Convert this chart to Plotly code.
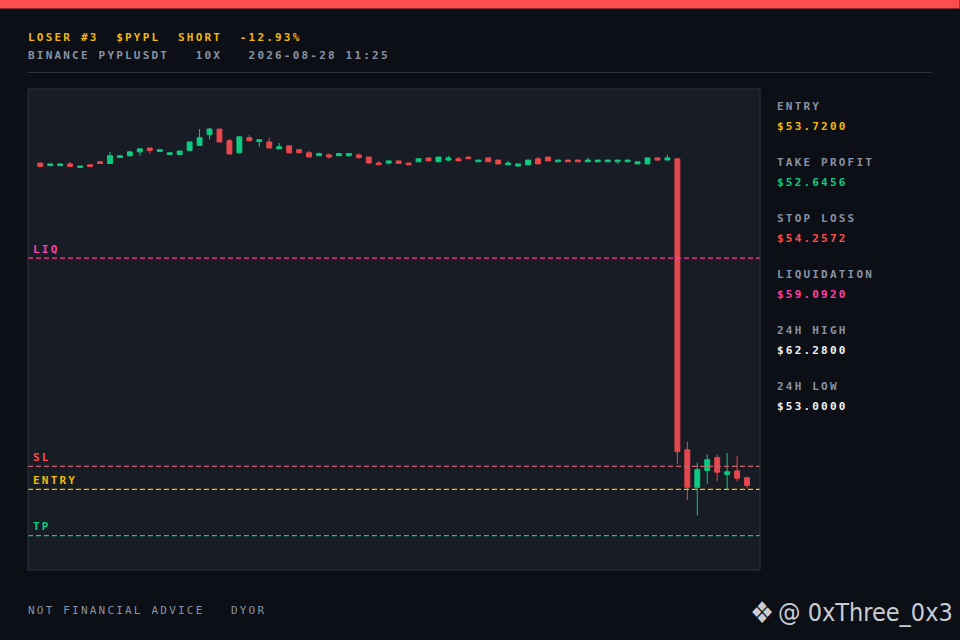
import plotly.graph_objects as go

# ---- data -------------------------------------------------------------
opens = [61.30, 61.24, 61.24, 61.28, 61.20, 61.26, 61.33, 61.29, 61.43, 61.47,
         61.56, 61.65, 61.57, 61.50, 61.50, 61.59, 61.71, 61.96, 62.09, 61.82,
         61.54, 61.89, 61.80, 61.79, 61.63, 61.70, 61.61, 61.54, 61.47, 61.49,
         61.47, 61.47, 61.49, 61.44, 61.30, 61.30, 61.35, 61.30, 61.33, 61.42,
         61.33, 61.37, 61.40, 61.44, 61.33, 61.42, 61.37, 61.26, 61.23, 61.26,
         61.40, 61.44, 61.33, 61.37, 61.37, 61.33, 61.33, 61.33, 61.33, 61.33,
         61.28, 61.28, 61.42, 61.37, 61.40, 54.64, 53.77, 54.16, 54.46, 54.07,
         54.15, 53.99]
highs = [61.30, 61.28, 61.28, 61.33, 61.23, 61.26, 61.35, 61.56, 61.47, 61.58,
         61.63, 61.65, 61.61, 61.54, 61.58, 61.79, 62.09, 62.12, 62.09, 61.86,
         61.93, 61.95, 61.84, 61.89, 61.77, 61.70, 61.61, 61.58, 61.54, 61.52,
         61.54, 61.52, 61.52, 61.44, 61.35, 61.35, 61.35, 61.30, 61.40, 61.42,
         61.44, 61.47, 61.44, 61.44, 61.37, 61.42, 61.37, 61.35, 61.28, 61.37,
         61.44, 61.44, 61.37, 61.37, 61.37, 61.42, 61.37, 61.37, 61.37, 61.37,
         61.33, 61.42, 61.42, 61.49, 61.40, 54.83, 54.34, 54.53, 54.53, 54.57,
         54.50, 54.02]
lows = [61.22, 61.24, 61.24, 61.22, 61.20, 61.22, 61.29, 61.29, 61.43, 61.45,
        61.47, 61.52, 61.57, 61.50, 61.50, 61.59, 61.71, 61.85, 61.79, 61.51,
        61.52, 61.80, 61.68, 61.65, 61.63, 61.52, 61.54, 61.44, 61.47, 61.40,
        61.47, 61.45, 61.40, 61.29, 61.26, 61.27, 61.29, 61.26, 61.33, 61.35,
        61.33, 61.35, 61.35, 61.40, 61.33, 61.33, 61.28, 61.26, 61.23, 61.26,
        61.28, 61.35, 61.33, 61.33, 61.33, 61.33, 61.33, 61.33, 61.28, 61.33,
        61.28, 61.28, 61.35, 61.37, 54.32, 53.47, 53.12, 53.85, 53.92, 53.71,
        53.91, 53.74]
closes = [61.22, 61.28, 61.28, 61.22, 61.23, 61.22, 61.29, 61.47, 61.47, 61.56,
          61.63, 61.59, 61.61, 61.54, 61.58, 61.79, 61.89, 62.09, 61.79, 61.51,
          61.91, 61.82, 61.84, 61.65, 61.68, 61.54, 61.54, 61.44, 61.52, 61.44,
          61.52, 61.52, 61.43, 61.30, 61.26, 61.35, 61.29, 61.26, 61.40, 61.35,
          61.44, 61.42, 61.35, 61.40, 61.37, 61.33, 61.28, 61.30, 61.28, 61.37,
          61.28, 61.35, 61.37, 61.33, 61.33, 61.37, 61.37, 61.37, 61.37, 61.37,
          61.33, 61.42, 61.37, 61.42, 54.60, 53.77, 54.18, 54.41, 54.12, 54.13,
          53.98, 53.81]
candle_idx = list(range(len(closes)))

level_names = ["LIQ", "SL", "ENTRY", "TP"]
level_prices = [59.0920, 54.2572, 53.7200, 52.6456]

panel_labels = ["ENTRY", "TAKE PROFIT", "STOP LOSS", "LIQUIDATION", "24H HIGH", "24H LOW"]
panel_values = ["$53.7200", "$52.6456", "$54.2572", "$59.0920", "$62.2800", "$53.0000"]

title_line = "LOSER #3  $PYPL  SHORT  -12.93%"
sub_line = "BINANCE PYPLUSDT   10X   2026-08-28 11:25"
footer_line = "NOT FINANCIAL ADVICE   DYOR"
handle = "@ 0xThree_0x3"

# ---- style ------------------------------------------------------------
BG = "#0c0f15"
PLOT_BG = "#181c24"
BORDER = "#2d333e"
GREY = "#8a92a3"
YELLOW = "#f0b90b"
GREEN = "#0ecb81"
RED = "#e5484d"
RED_TXT = "#ff4d4d"
PINK = "#ff3fa4"
WHITE = "#f2f4f7"
MONO = "DejaVu Sans Mono, monospace"
COND = "DejaVu Sans Condensed, DejaVu Sans, sans-serif"

level_colors = [PINK, "#c8646e", YELLOW, GREEN]
label_colors = [PINK, RED_TXT, YELLOW, GREEN]
value_colors = [YELLOW, GREEN, RED_TXT, PINK, WHITE, WHITE]

W, H = 960, 640
L, R, T, B = 28, 760.3, 89, 570.3


def px(x):
    return (x - L) / (R - L)


def py(y):
    return (B - y) / (B - T)


def note(x, y, text, color, size=11, family=MONO, anchor="left"):
    fig.add_annotation(x=px(x), y=py(y), xref="paper", yref="paper", text=text,
                       showarrow=False, xanchor=anchor, yanchor="middle",
                       font=dict(family=family, size=size, color=color))


fig = go.Figure()

fig.add_trace(go.Candlestick(
    x=candle_idx, open=opens, high=highs, low=lows, close=closes,
    increasing=dict(line=dict(color=GREEN, width=1), fillcolor=GREEN),
    decreasing=dict(line=dict(color=RED, width=1), fillcolor=RED),
    whiskerwidth=0, hoverinfo="skip", showlegend=False,
))

# level lines + labels
for name, price, lc, tc in zip(level_names, level_prices, level_colors, label_colors):
    fig.add_hline(y=price, line=dict(color=lc, width=1.2, dash="5px,3px"))
    fig.add_annotation(
        x=0.004, xref="x domain", y=price, yref="y", yshift=9,
        text=f"<b>{name}</b>", showarrow=False, xanchor="left", yanchor="middle",
        font=dict(family=MONO, size=11, color=tc),
    )

# top bar, header separator, plot border
fig.add_shape(type="rect", xref="paper", yref="paper", x0=px(0), x1=px(W), y0=py(0), y1=py(8.5),
              fillcolor="#ff4d4d", line=dict(width=0), layer="above")
fig.add_shape(type="line", xref="paper", yref="paper", x0=px(28), x1=px(933), y0=py(72.5), y1=py(72.5),
              line=dict(color=BORDER, width=1))
fig.add_shape(type="rect", xref="paper", yref="paper", x0=0, x1=1, y0=0, y1=1,
              line=dict(color=BORDER, width=1), layer="above")

# header
note(26, 37, f"<b>{title_line}</b>", YELLOW)
note(26, 55, f"<b>{sub_line}</b>", GREY)

# right panel
for k, (lab, val, vc) in enumerate(zip(panel_labels, panel_values, value_colors)):
    note(775, 107 + 56 * k, f"<b>{lab}</b>", GREY)
    note(775, 127 + 56 * k, f"<b>{val}</b>", vc)

# footer
note(26, 611, footer_line, GREY, size=11)
note(762, 613, "❖", "#c9cdd3", size=30, family=COND, anchor="center")
note(955, 613, handle, "#c9cdd3", size=25, family=COND, anchor="right")

fig.update_layout(
    width=W, height=H,
    paper_bgcolor=BG, plot_bgcolor=PLOT_BG,
    margin=dict(l=L, r=W - R, t=T, b=H - B),
    showlegend=False, hovermode=False,
    xaxis=dict(range=[-1.235, 72.3], visible=False, rangeslider=dict(visible=False),
               fixedrange=True),
    yaxis=dict(range=[51.849, 63.02], visible=False, fixedrange=True),
)

# no page margin; wide tracking for the monospace labels (kept left-aligned)
post = """
document.body.style.margin = '0';
var gd = document.getElementById('{plot_id}');
function track() {
  gd.querySelectorAll('text.annotation-text').forEach(function (t) {
    if ((t.style.fontFamily || '').indexOf('Mono') < 0 || t.getAttribute('data-tracked')) return;
    var b = t.getBBox();
    t.setAttribute('text-anchor', 'start');
    t.setAttribute('x', b.x);
    t.style.letterSpacing = '2.2px';
    t.setAttribute('data-tracked', '1');
  });
}
track();
gd.on('plotly_afterplot', track);
"""

fig.write_html("out.html", post_script=post, config={"displayModeBar": False})
